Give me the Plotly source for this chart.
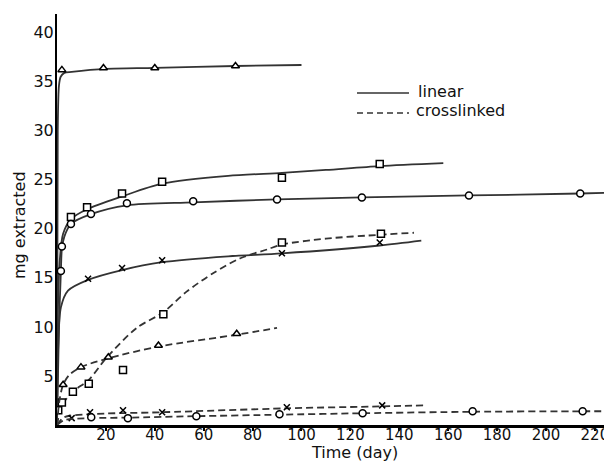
import plotly.graph_objects as go

# ---- data ----
# linear (solid) series: markers + smooth curve
lin_tri_x = [2, 19, 40, 73]
lin_tri_y = [36.2, 36.4, 36.4, 36.6]
lin_tri_cx = [0, 0.3, 0.8, 1.5, 3, 6, 20, 40, 73, 100]
lin_tri_cy = [0, 30, 34.6, 35.5, 35.9, 36.0, 36.3, 36.4, 36.6, 36.7]

lin_sq_x = [5.7, 12.3, 26.6, 43, 92, 132]
lin_sq_y = [21.2, 22.2, 23.6, 24.8, 25.2, 26.6]
lin_sq_cx = [0, 0.4, 1.2, 2.5, 5.7, 12.3, 26.6, 43, 70, 92, 110, 132, 158]
lin_sq_cy = [0, 12, 17, 19.5, 21.0, 22.0, 23.3, 24.6, 25.4, 25.7, 26.0, 26.4, 26.7]

lin_ci_x = [1.6, 2.0, 5.7, 13.9, 28.6, 55.7, 90, 124.7, 168.5, 214]
lin_ci_y = [15.7, 18.2, 20.5, 21.5, 22.6, 22.8, 23.0, 23.2, 23.4, 23.6]
lin_ci_cx = [0, 0.8, 1.6, 2.0, 3, 5.7, 13.9, 28.6, 55.7, 90, 124.7, 168.5, 214, 227]
lin_ci_cy = [0, 10, 15.7, 18.0, 19.2, 20.5, 21.5, 22.4, 22.7, 23.0, 23.2, 23.4, 23.6, 23.7]

lin_x_x = [12.7, 26.6, 43, 92, 132]
lin_x_y = [14.9, 16.0, 16.8, 17.5, 18.6]
lin_x_cx = [0, 0.5, 1.6, 4.5, 12.7, 26.6, 43, 70, 92, 132, 149]
lin_x_cy = [0, 8, 12.0, 13.7, 14.8, 15.8, 16.6, 17.2, 17.5, 18.3, 18.8]

# crosslinked (dashed) series
cl_sq_x = [0.5, 2, 6.5, 13, 27, 43.5, 92, 132.5]
cl_sq_y = [1.5, 2.3, 3.4, 4.2, 5.6, 11.3, 18.6, 19.5]
cl_sq_cx = [0, 2, 6.5, 13, 20.4, 32.6, 43.5, 53, 64, 75, 86, 92, 110, 132.5, 146]
cl_sq_cy = [0, 2.0, 3.4, 4.6, 6.9, 9.9, 11.5, 13.6, 15.5, 17.0, 17.9, 18.4, 19.0, 19.4, 19.6]

cl_tri_x = [2.5, 9.8, 21, 41.5, 73.5]
cl_tri_y = [4.1, 5.9, 6.9, 8.1, 9.3]
cl_tri_cx = [0, 1, 2.5, 5, 9.8, 21, 41.5, 73.5, 90]
cl_tri_cy = [0, 2.5, 4.1, 5.1, 5.9, 6.8, 8.0, 9.2, 9.9]

cl_x_x = [6, 13.5, 27, 43, 94, 133]
cl_x_y = [0.7, 1.3, 1.5, 1.3, 1.8, 2.0]
cl_x_cx = [0, 3, 13.5, 43, 94, 133, 150]
cl_x_cy = [0, 0.8, 1.1, 1.3, 1.7, 1.9, 2.0]

cl_ci_x = [14, 29, 57, 91, 125, 170, 215]
cl_ci_y = [0.8, 0.7, 0.9, 1.1, 1.2, 1.4, 1.4]
cl_ci_cx = [0, 3, 14, 29, 57, 91, 125, 170, 215, 227]
cl_ci_cy = [0, 0.5, 0.7, 0.75, 0.9, 1.05, 1.2, 1.35, 1.4, 1.4]

x_ticks = [20, 40, 60, 80, 100, 120, 140, 160, 180, 200, 220]
y_ticks = [5, 10, 15, 20, 25, 30, 35, 40]

LINE = "#333333"
DASH = "7px,4px"
FONT = "DejaVu Sans"

fig = go.Figure()

series = [
    (lin_tri_cx, lin_tri_cy, lin_tri_x, lin_tri_y, "triangle-up", "solid"),
    (lin_sq_cx, lin_sq_cy, lin_sq_x, lin_sq_y, "square", "solid"),
    (lin_ci_cx, lin_ci_cy, lin_ci_x, lin_ci_y, "circle", "solid"),
    (lin_x_cx, lin_x_cy, lin_x_x, lin_x_y, "x-thin-open", "solid"),
    (cl_sq_cx, cl_sq_cy, cl_sq_x, cl_sq_y, "square", DASH),
    (cl_tri_cx, cl_tri_cy, cl_tri_x, cl_tri_y, "triangle-up", DASH),
    (cl_x_cx, cl_x_cy, cl_x_x, cl_x_y, "x-thin-open", DASH),
    (cl_ci_cx, cl_ci_cy, cl_ci_x, cl_ci_y, "circle", DASH),
]

for cx, cy, mx, my, sym, dash in series:
    fig.add_trace(go.Scatter(
        x=cx, y=cy, mode="lines",
        line=dict(color=LINE, width=1.8, dash=dash, shape="spline", smoothing=0.8),
        showlegend=False, hoverinfo="skip"))
    is_x = sym.startswith("x")
    fig.add_trace(go.Scatter(
        x=mx, y=my, mode="markers",
        marker=dict(symbol=sym, size=6 if is_x else 7,
                    color="black" if is_x else "white",
                    line=dict(color="black", width=1.5)),
        showlegend=False))

# legend (drawn manually), positions in window pixels -> paper
def px2paper(px, py):
    return (px - 57) / 555.0, (425 - py) / 411.0

x0, y0 = px2paper(357, 93)
x1, _ = px2paper(409, 93)
fig.add_shape(type="line", xref="paper", yref="paper", x0=x0, x1=x1, y0=y0, y1=y0,
              line=dict(color=LINE, width=1.5))
xt, yt = px2paper(416, 91)
fig.add_annotation(xref="paper", yref="paper", x=xt, y=yt, text="linear", showarrow=False,
                   xanchor="left", yanchor="middle", font=dict(family=FONT, size=16, color="#111"))
x0, y0 = px2paper(357, 113)
fig.add_shape(type="line", xref="paper", yref="paper", x0=x0, x1=x1, y0=y0, y1=y0,
              line=dict(color=LINE, width=1.5, dash="6px,4px"))
xt, yt = px2paper(414, 110)
fig.add_annotation(xref="paper", yref="paper", x=xt, y=yt, text="crosslinked", showarrow=False,
                   xanchor="left", yanchor="middle", font=dict(family=FONT, size=16, color="#111"))

# axis titles
fig.add_annotation(xref="paper", yref="paper", x=(354 - 57) / 555.0, y=(425 - 453) / 411.0,
                   text="Time (day)", showarrow=False, xanchor="center", yanchor="middle",
                   font=dict(family=FONT, size=16, color="#111"))
fig.add_annotation(xref="paper", yref="paper", x=(20 - 57) / 555.0, y=(425 - 225) / 411.0,
                   text="mg extracted", showarrow=False, textangle=-90, xanchor="center",
                   yanchor="middle", font=dict(family=FONT, size=16, color="#111"))

# page body has an 8px default margin, so the figure is offset by 8px
fig.update_layout(
    width=604, height=454,
    margin=dict(l=49, r=0, t=6, b=37, autoexpand=False),
    paper_bgcolor="white", plot_bgcolor="white",
    font=dict(family=FONT, size=16, color="#111"),
    showlegend=False,
)
fig.update_xaxes(range=[0, 227], tickvals=x_ticks, showgrid=False, zeroline=False,
                 showline=True, linecolor="black", linewidth=2.5,
                 ticks="outside", ticklen=3, tickcolor="black", tickwidth=1.5,
                 ticklabelstandoff=-9,
                 tickfont=dict(family=FONT, size=15, color="#111"))
fig.update_yaxes(range=[0, 41.9], tickvals=y_ticks, showgrid=False, zeroline=False,
                 showline=True, linecolor="black", linewidth=2,
                 ticks="", ticklabelstandoff=-2,
                 tickfont=dict(family=FONT, size=16, color="#111"))

fig.write_html("out.html")
